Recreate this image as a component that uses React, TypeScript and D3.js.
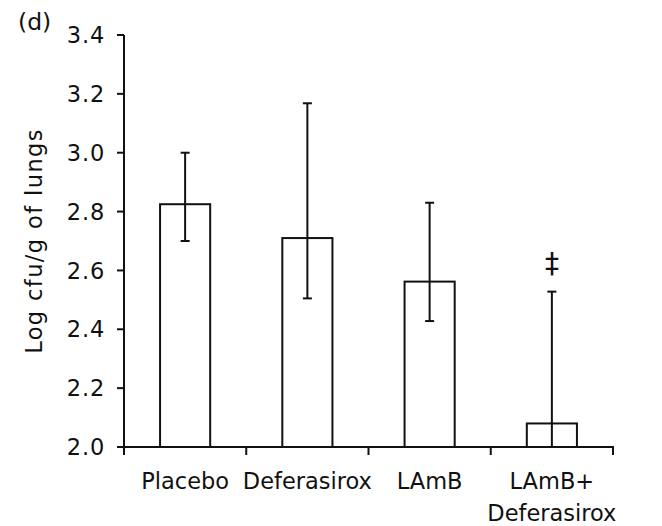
import React from "react";
import * as d3 from "d3";

const categories = ["Placebo", "Deferasirox", "LAmB", "LAmB+\nDeferasirox"];
const means = [2.825, 2.71, 2.562, 2.08];
const errUpper = [3.0, 3.168, 2.83, 2.528];
const errLower = [2.7, 2.505, 2.428, 1.632];
const yTicks = [2.0, 2.2, 2.4, 2.6, 2.8, 3.0, 3.2, 3.4];
const annotations = ["", "", "", "‡"];

const W = 662;
const H = 526;
const left = 124;
const right = 613;
const top = 35;
const bottom = 447;
const FONT = "'DejaVu Sans', sans-serif";
const FS = 22.5;

export default function App() {
  const x = d3
    .scaleBand<string>()
    .domain(categories)
    .range([left, right])
    .paddingInner(0.59)
    .paddingOuter(0.295);
  const y = d3.scaleLinear().domain([2.0, 3.4]).range([bottom, top]);
  const step = x.step();
  const bw = x.bandwidth();
  const boundaries = categories.map((c) => (x(c) as number) - (step - bw) / 2);
  boundaries.push(right);
  const sw = 2;
  const capW = 9;

  return (
    <svg
      width={W}
      height={H}
      style={{ position: "absolute", left: 0, top: 0, background: "#fff" }}
      fontFamily={FONT}
    >
      <rect x={0} y={0} width={W} height={H} fill="#fff" />
      <text x={18} y={30} fontSize={23.5} fill="#111">
        (d)
      </text>
      <text
        transform={`translate(42,${241}) rotate(-90)`}
        textAnchor="middle"
        fontSize={FS}
        letterSpacing={1.4}
        fill="#111"
      >
        Log cfu/g of lungs
      </text>
      {categories.map((c, i) => {
        const bx = x(c) as number;
        const yTop = y(means[i]);
        return (
          <rect
            key={"bar" + i}
            x={bx}
            y={yTop}
            width={bw}
            height={bottom - yTop}
            fill="none"
            stroke="#111"
            strokeWidth={sw}
          />
        );
      })}
      {categories.map((c, i) => {
        const cx = (x(c) as number) + bw / 2;
        const hiY = y(errUpper[i]);
        const loClipped = errLower[i] < 2.0;
        const loY = loClipped ? bottom : y(errLower[i]);
        return (
          <g key={"err" + i} stroke="#111" strokeWidth={sw}>
            <line x1={cx} x2={cx} y1={hiY} y2={loY} />
            <line x1={cx - capW / 2} x2={cx + capW / 2} y1={hiY} y2={hiY} />
            {!loClipped && (
              <line x1={cx - capW / 2} x2={cx + capW / 2} y1={loY} y2={loY} />
            )}
          </g>
        );
      })}
      {categories.map((c, i) =>
        annotations[i] ? (
          <text
            key={"ann" + i}
            x={(x(c) as number) + bw / 2}
            y={y(errUpper[i]) - 19}
            textAnchor="middle"
            fontSize={28}
            fill="#111"
          >
            {annotations[i]}
          </text>
        ) : null
      )}
      <g stroke="#111" strokeWidth={sw}>
        <line x1={left} x2={left} y1={top} y2={bottom + 8} />
        {yTicks.map((t) => (
          <line key={"yt" + t} x1={left - 7} x2={left} y1={y(t)} y2={y(t)} />
        ))}
      </g>
      {yTicks.map((t) => (
        <text
          key={"yl" + t}
          x={105}
          y={y(t)}
          dy="0.36em"
          textAnchor="end"
          fontSize={FS}
          letterSpacing={0.8}
          fill="#111"
        >
          {d3.format(".1f")(t)}
        </text>
      ))}
      <g stroke="#111" strokeWidth={sw}>
        <line x1={left - 7} x2={right + 1} y1={bottom} y2={bottom} />
        {boundaries.map((b, i) => (
          <line key={"xt" + i} x1={b} x2={b} y1={bottom} y2={bottom + 8} />
        ))}
      </g>
      {categories.map((c, i) => {
        const lines = c.split("\n");
        const cx = (x(c) as number) + bw / 2;
        return (
          <text
            key={"xl" + i}
            x={cx}
            y={489}
            textAnchor="middle"
            fontSize={FS}
            fill="#111"
          >
            {lines.map((ln, j) => (
              <tspan key={j} x={cx} dy={j === 0 ? 0 : 32}>
                {ln}
              </tspan>
            ))}
          </text>
        );
      })}
    </svg>
  );
}
